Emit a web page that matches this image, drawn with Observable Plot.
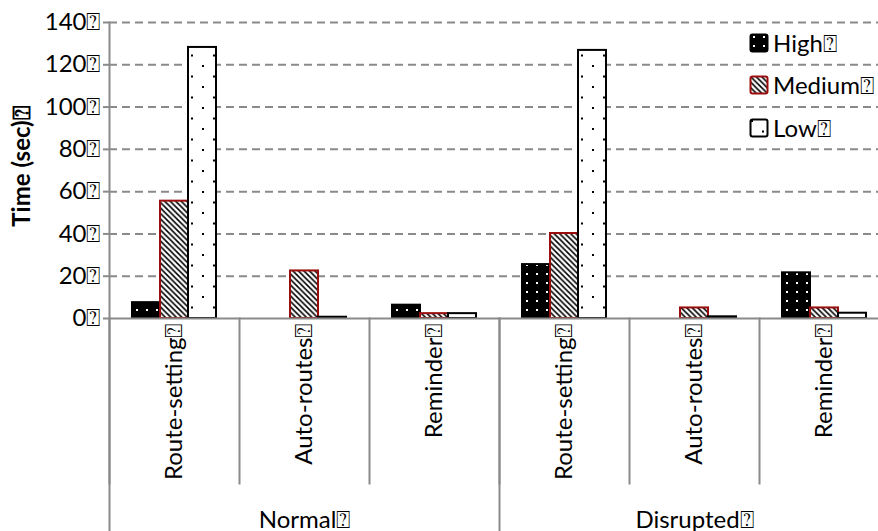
<!DOCTYPE html>
<html><head><meta charset="utf-8">
<script src="https://cdn.jsdelivr.net/npm/d3@7"></script>
<script src="https://cdn.jsdelivr.net/npm/@observablehq/plot@0.6"></script>
<style>
html,body{margin:0;padding:0;background:#fff;overflow:hidden;}
#wrap{position:relative;width:878px;height:531px;overflow:hidden;}
#wrap svg.chart, #wrap figure svg, #wrap > svg{max-width:none !important;}
.legend{position:absolute;left:749px;top:22px;font-family:Lato, sans-serif;font-size:24px;color:#000;}
.legend .row{height:42.3px;display:flex;align-items:center;}
.legend .row svg{margin-right:4px;display:block;}
</style></head><body>
<svg width="0" height="0" style="position:absolute">
<defs>
<pattern id="pHigh" patternUnits="userSpaceOnUse" width="10" height="9"><rect width="10" height="9" fill="#000"/><rect x="4" y="3" width="2" height="2" fill="#fff"/></pattern>
<pattern id="pMedium" patternUnits="userSpaceOnUse" width="5.5" height="5.5"><rect width="5.5" height="5.5" fill="#fff"/><path d="M-1,-1 L6.5,6.5 M-1,4.5 L1,6.5 M4.5,-1 L6.5,1" stroke="#000" stroke-width="1.6"/></pattern>
<pattern id="pLow" patternUnits="userSpaceOnUse" width="22" height="21"><rect width="22" height="21" fill="#fff"/><rect x="2" y="2" width="2" height="2" fill="#000"/><rect x="13" y="12.5" width="2" height="2" fill="#000"/></pattern>
</defs></svg>
<div id="wrap"></div>
<script>
const groups = ["Normal", "Disrupted"];
const tasks = ["Route-setting", "Auto-routes", "Reminder"];
const series = ["High", "Medium", "Low"];
const highValues = [7.5, 0, 6.3, 25.5, 0, 21.6];
const mediumValues = [55.5, 22.5, 2.3, 40.2, 5.0, 5.0];
const lowValues = [128.2, 0.6, 2.3, 126.8, 0.8, 2.5];
const yTicks = [0, 20, 40, 60, 80, 100, 120, 140];
const yTitle = "Time (sec)";
const tofu = "\u2370";

const keys = groups.flatMap(g => tasks.map(t => g + "|" + t));
const valuesBySeries = {High: highValues, Medium: mediumValues, Low: lowValues};
const data = series.flatMap(s => keys.map((k, i) => ({key: k, series: s, value: valuesBySeries[s][i]})));
const fills = {High: "url(#pHigh)", Medium: "url(#pMedium)", Low: "url(#pLow)"};
const strokes = {High: "#000", Medium: "#9b0d0d", Low: "#000"};
const groupLabels = groups.map(g => ({fx: g + "|" + tasks[1], label: g + tofu}));
const titleData = [{fx: keys[0], label: yTitle + tofu}];
const axisGray = "#8a8a8a";

const chart = Plot.plot({
  width: 891, height: 531,
  marginTop: 22, marginBottom: 213, marginLeft: 107, marginRight: 0,
  style: {fontFamily: "Lato, sans-serif", fontSize: "24px", color: "#000", background: "#fff", maxWidth: "none"},
  fx: {domain: keys, padding: 0, label: null},
  x: {domain: series, paddingInner: 0, paddingOuter: 0.78, axis: null},
  y: {domain: [0, 140], label: null},
  marks: [
    Plot.gridY(yTicks.filter(d => d > 0), {stroke: axisGray, strokeOpacity: 1, strokeWidth: 2, strokeDasharray: "8,5"}),
    ...series.map(s => Plot.barY(data.filter(d => d.series === s && d.value > 0), {
      fx: "key", x: "series", y: "value", fill: fills[s], stroke: strokes[s], strokeWidth: 2
    })),
    Plot.ruleY([0], {stroke: axisGray, strokeWidth: 2}),
    Plot.axisY(yTicks, {tickFormat: d => d + tofu, tickSize: 6, tickPadding: 3, stroke: axisGray, strokeWidth: 2, label: null}),
    Plot.axisFx({anchor: "bottom", tickRotate: -90, tickSize: 0, tickPadding: 5, tickFormat: k => k.split("|")[1] + tofu, label: null}),
    Plot.frame({anchor: "left", stroke: axisGray, strokeWidth: 2, insetTop: 296, insetBottom: -165}),
    Plot.frame({anchor: "left", stroke: axisGray, strokeWidth: 2, fx: () => keys[0], insetBottom: -213}),
    Plot.frame({anchor: "left", stroke: axisGray, strokeWidth: 2, fx: () => keys[3], insetTop: 296, insetBottom: -213}),
    Plot.text(titleData, {fx: "fx", text: "label", frameAnchor: "left", textAnchor: "middle", rotate: -90, dx: -87, dy: -4, fontWeight: "bold"}),
    Plot.text(groupLabels, {fx: "fx", text: "label", frameAnchor: "bottom", dy: 209})
  ]
});
const wrap = document.getElementById("wrap");
wrap.appendChild(chart);

const legend = document.createElement("div");
legend.className = "legend";
for (const s of series) {
  const row = document.createElement("div");
  row.className = "row";
  row.innerHTML = `<svg width="20" height="20"><rect x="1.5" y="1.5" width="17" height="17" rx="2" fill="${fills[s]}" stroke="${strokes[s]}" stroke-width="2"/></svg><span>${s}${tofu}</span>`;
  legend.appendChild(row);
}
wrap.appendChild(legend);
</script>
</body></html>
